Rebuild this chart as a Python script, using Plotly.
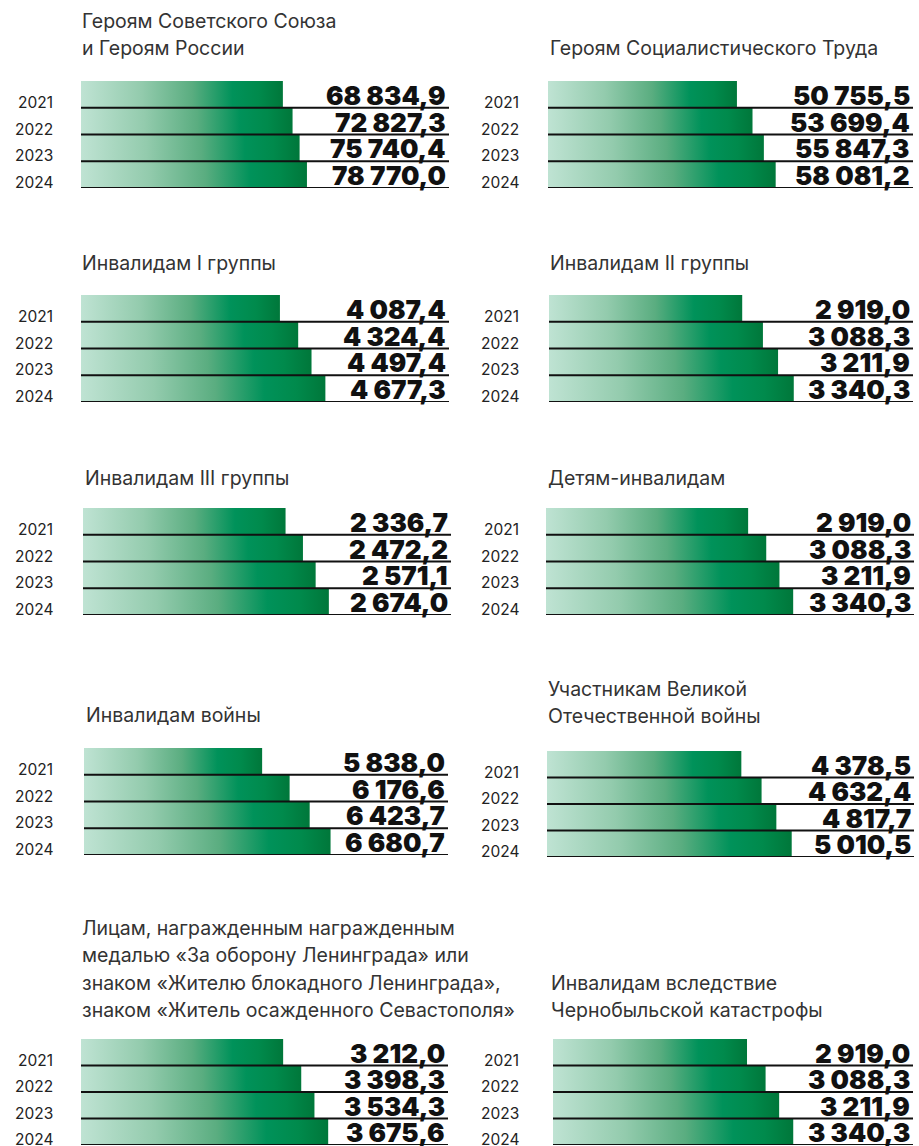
import plotly.graph_objects as go

W, H = 919, 1146

YEARS = ["2021", "2022", "2023", "2024"]

TITLES = [
    "Героям Советского Союза\nи Героям России",
    "Героям Социалистического Труда",
    "Инвалидам I группы",
    "Инвалидам II группы",
    "Инвалидам III группы",
    "Детям-инвалидам",
    "Инвалидам войны",
    "Участникам Великой\nОтечественной войны",
    "Лицам, награжденным награжденным\nмедалью «За оборону Ленинграда» или\n"
    "знаком «Жителю блокадного Ленинграда»,\nзнаком «Житель осажденного Севастополя»",
    "Инвалидам вследствие\nЧернобыльской катастрофы",
]

HEROES_USSR_RF = [68834.9, 72827.3, 75740.4, 78770.0]
HEROES_SOC_LABOUR = [50755.5, 53699.4, 55847.3, 58081.2]
DISABLED_GROUP_I = [4087.4, 4324.4, 4497.4, 4677.3]
DISABLED_GROUP_II = [2919.0, 3088.3, 3211.9, 3340.3]
DISABLED_GROUP_III = [2336.7, 2472.2, 2571.1, 2674.0]
DISABLED_CHILDREN = [2919.0, 3088.3, 3211.9, 3340.3]
WAR_INVALIDS = [5838.0, 6176.6, 6423.7, 6680.7]
WWII_VETERANS = [4378.5, 4632.4, 4817.7, 5010.5]
LENINGRAD_SEVASTOPOL = [3212.0, 3398.3, 3534.3, 3675.6]
CHERNOBYL_INVALIDS = [2919.0, 3088.3, 3211.9, 3340.3]

SERIES = [
    HEROES_USSR_RF, HEROES_SOC_LABOUR,
    DISABLED_GROUP_I, DISABLED_GROUP_II,
    DISABLED_GROUP_III, DISABLED_CHILDREN,
    WAR_INVALIDS, WWII_VETERANS,
    LENINGRAD_SEVASTOPOL, CHERNOBYL_INVALIDS,
]

# ---- layout settings (pixels on a 919 x 1146 page) ----
# panel plot boxes: left, right, top, bottom
BOXES = [
    (81, 449, 81, 188), (548, 913, 81, 188),
    (81, 449, 295, 402), (549, 913, 295, 402),
    (83, 451, 508, 615), (546, 914, 508, 615),
    (84, 448, 748, 855), (547, 914, 751, 857),
    (81, 448, 1039, 1145), (553, 913, 1039, 1145),
]
# value axis window of every panel (truncated scales)
X_RANGES = [
    (-14506, 137410), (15027, 84047),
    (1505.4, 6281.8), (1340.5, 4314.4),
    (758.9, 3625.4), (1028.5, 4470.3),
    (3644.5, 8126.8), (1940.1, 6544.8),
    (1131.6, 4908.8), (1150.9, 4431.7),
]
TITLE_X = [80, 548, 80, 548, 83, 546, 84, 546, 80, 549]
TITLE_Y = [21, 48, 263, 263, 478, 478, 715, 689, 928, 983]
TITLE_STEP = 27.3
YEAR_RIGHT = [55, 521]

GRADIENT = [
    [0.0, "#bfe3d3"],
    [0.3, "#93cbad"],
    [0.55, "#5aad80"],
    [0.75, "#00925a"],
    [0.88, "#008a4c"],
    [1.0, "#00773a"],
]

TITLE_FONT = dict(family="Inter, 'Noto Sans', sans-serif", size=19.5, color="#333333")
YEAR_FONT = dict(family="Inter, 'Noto Sans', sans-serif", size=15.5, color="#222222")
VALUE_FONT = dict(family="Inter, 'Open Sans', sans-serif", size=26, color="#111111", weight=900)


def fmt(v):
    return f"{v:,.1f}".replace(",", " ").replace(".", ",")


def px_x(p):
    return p / W


def px_y(p):
    return 1 - p / H


fig = go.Figure()
annotations = []
shapes = []
layout_axes = {}

for k, (values, title) in enumerate(zip(SERIES, TITLES)):
    n = k + 1
    xa = "x" if n == 1 else f"x{n}"
    ya = "y" if n == 1 else f"y{n}"
    left, right, top, bottom = BOXES[k]
    r0, r1 = X_RANGES[k]

    layout_axes["xaxis" if n == 1 else f"xaxis{n}"] = dict(
        domain=[px_x(left), px_x(right)], range=[r0, r1], anchor=ya,
        visible=False, fixedrange=True,
    )
    layout_axes["yaxis" if n == 1 else f"yaxis{n}"] = dict(
        domain=[px_y(bottom), px_y(top)], range=[len(values), 0], anchor=xa,
        visible=False, fixedrange=True,
    )

    for i, (year, v) in enumerate(zip(YEARS, values)):
        # gradient bar from the panel's axis start to the value
        fig.add_trace(go.Scatter(
            x=[r0, v, v, r0, r0], y=[i, i, i + 1, i + 1, i],
            mode="lines", line=dict(width=0), fill="toself",
            fillgradient=dict(type="horizontal", colorscale=GRADIENT),
            hoverinfo="skip", showlegend=False, xaxis=xa, yaxis=ya,
        ))
        # underline of each row
        shapes.append(dict(
            type="line", xref=f"{xa} domain", yref=ya,
            x0=0, x1=1, y0=i + 1, y1=i + 1,
            line=dict(color="#111111", width=2),
        ))
        annotations.append(dict(
            xref="paper", yref=ya, x=px_x(right - 1), y=i + 0.54,
            xanchor="right", yanchor="middle", showarrow=False,
            text=fmt(v), font=VALUE_FONT,
        ))
        annotations.append(dict(
            xref="paper", yref=ya, x=px_x(YEAR_RIGHT[k % 2]), y=i + 0.8,
            xanchor="right", yanchor="middle", showarrow=False,
            text=year, font=YEAR_FONT,
        ))

    for j, line in enumerate(title.split("\n")):
        annotations.append(dict(
            xref="paper", yref="paper",
            x=px_x(TITLE_X[k]), y=px_y(TITLE_Y[k] + j * TITLE_STEP),
            xanchor="left", yanchor="middle", showarrow=False,
            text=line, font=TITLE_FONT,
        ))

fig.update_layout(
    width=W, height=H,
    margin=dict(l=0, r=0, t=0, b=0),
    paper_bgcolor="white", plot_bgcolor="rgba(0,0,0,0)",
    showlegend=False,
    annotations=annotations, shapes=shapes,
    **layout_axes,
)

fig.write_html("out.html", config={"displayModeBar": False})
